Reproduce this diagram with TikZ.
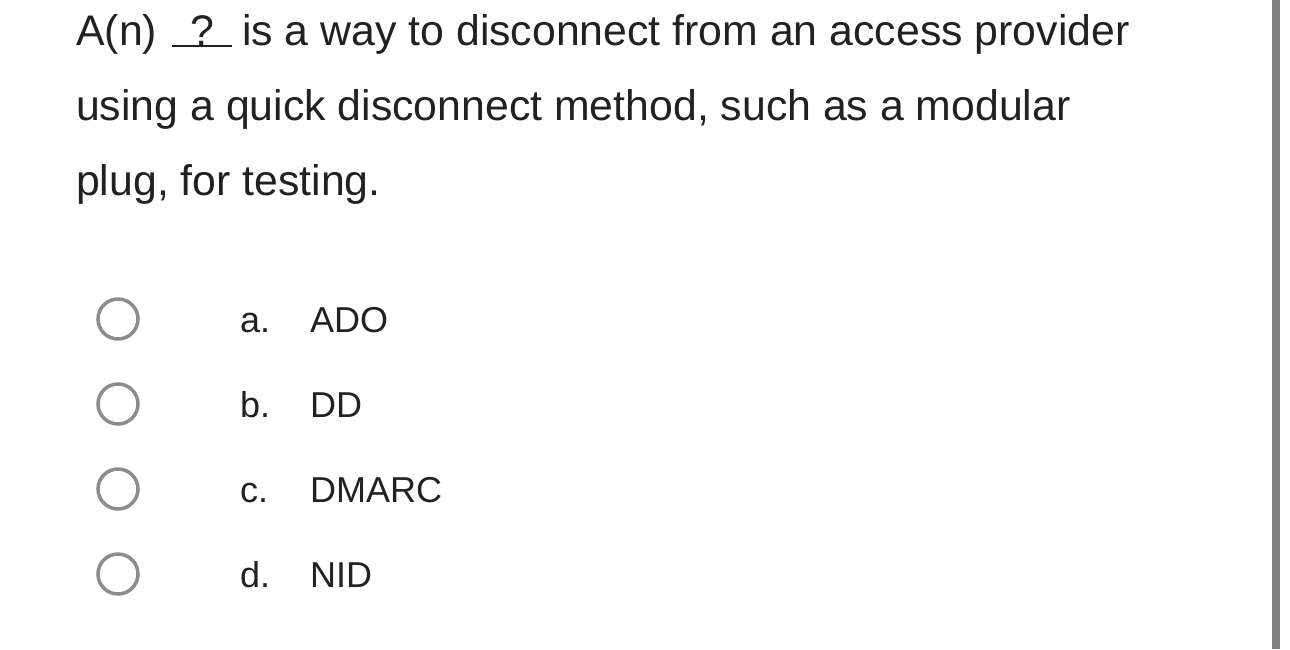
\documentclass[tikz,border=0pt]{standalone}
\usepackage{fontspec}
\setmainfont{Liberation Sans}
\begin{document}
\begin{tikzpicture}[x=1pt,y=-1pt,
  q/.style={anchor=base west,inner sep=0pt,font=\fontsize{42.8}{42.8}\selectfont,text=black!87},
  opt/.style={anchor=base west,inner sep=0pt,font=\fontsize{36}{36}\selectfont,text=black!87},
  radio/.style={circle,draw=black!45,line width=3.5pt,minimum size=40pt,inner sep=0pt}]
\useasboundingbox (0,0) rectangle (1290,649);
\fill[black!50] (1272,0) rectangle (1280,649);
\node[q] (l1a) at (76,45) {A(n)};
\node[q] (qm) at (190,45) {?};
\draw[line width=2pt,black!87] (172,46) -- (232,46);
\node[q] (l1b) at (242,45) {is a way to disconnect from an access provider};
\node[q] (l2) at (76,120) {using a quick disconnect method, such as a modular};
\node[q] (l3) at (76,195) {plug, for testing.};
\foreach \y/\l/\t [count=\i] in {319/a./ADO,404/b./DD,489/c./DMARC,574/d./NID}{
  \node[radio] (r\i) at (118,\y) {};
  \node[opt] (k\i) at (240,\y+13) {\l};
  \node[opt] (t\i) at (310,\y+13) {\t};
}
\end{tikzpicture}
\end{document}
